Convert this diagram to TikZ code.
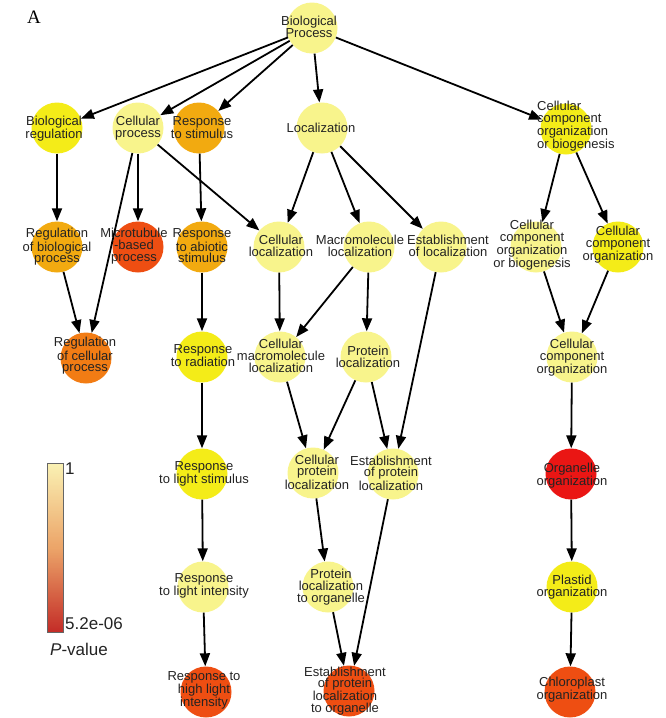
\documentclass[tikz,border=0pt]{standalone}
\usepackage{fontspec}
\usetikzlibrary{arrows.meta}
\newfontfamily\labelfont{Liberation Sans}
\newfontfamily\panelfont{Liberation Serif}
% node fill colours (P-value scale)
\definecolor{pale}{RGB}{248,244,140}
\definecolor{bright}{RGB}{244,236,24}
\definecolor{amber}{RGB}{242,170,16}
\definecolor{tangerine}{RGB}{242,124,20}
\definecolor{vermil}{RGB}{238,78,18}
\definecolor{scarlet}{RGB}{234,22,20}
\definecolor{ink}{RGB}{35,35,35}
% legend bar stops
\definecolor{barTop}{RGB}{250,242,180}
\definecolor{barMid}{RGB}{236,165,105}
\definecolor{barBot}{RGB}{196,46,40}
\begin{document}
\begin{tikzpicture}[x=1pt,y=-1pt,
  term/.style={circle,minimum size=51pt,inner sep=0pt,draw=none},
  lbl/.style={font=\labelfont\fontsize{13}{11.8}\selectfont,align=center,inner sep=0pt,text=ink},
  link/.style={-{Triangle[length=13pt,width=10pt]},line width=1.8pt,black},
  legendtxt/.style={font=\labelfont\fontsize{17}{17}\selectfont,inner sep=0pt,text=ink}]
\useasboundingbox (0,0) rectangle (666,718);

% panel letter
\node[font=\panelfont\fontsize{19}{19}\selectfont,inner sep=0pt] (panel) at (34,17) {A};

% GO term circles
\node[term,fill=pale]      (bp)    at (312,28)  {};
\node[term,fill=bright]    (breg)  at (57,128)  {};
\node[term,fill=pale]      (cproc) at (138,128) {};
\node[term,fill=amber]     (rstim) at (199,128) {};
\node[term,fill=pale]      (loc)   at (322,128) {};
\node[term,fill=bright]    (ccob)  at (566,129) {};
\node[term,fill=amber]     (rbp)   at (57,247)  {};
\node[term,fill=vermil]    (mtb)   at (138,247) {};
\node[term,fill=amber]     (rabs)  at (202,247) {};
\node[term,fill=pale]      (cloc)  at (279,247) {};
\node[term,fill=pale]      (mloc)  at (369,247) {};
\node[term,fill=pale]      (eloc)  at (441,247) {};
\node[term,fill=pale]      (ccobb) at (536,247) {};
\node[term,fill=bright]    (ccor)  at (618,247) {};
\node[term,fill=tangerine] (rcp)   at (86,358)  {};
\node[term,fill=bright]    (rrad)  at (202,357) {};
\node[term,fill=pale]      (cmloc) at (280,357) {};
\node[term,fill=pale]      (ploc)  at (366,357) {};
\node[term,fill=pale]      (ccom)  at (572,357) {};
\node[term,fill=bright]    (rls)   at (202,474) {};
\node[term,fill=pale]      (cploc) at (313,473) {};
\node[term,fill=pale]      (eploc) at (393,474) {};
\node[term,fill=scarlet]   (oorg)  at (571,474) {};
\node[term,fill=pale]      (rli)   at (203,587) {};
\node[term,fill=pale]      (plo)   at (328,587) {};
\node[term,fill=bright]    (porg)  at (572,587) {};
\node[term,fill=vermil]    (rhl)   at (206,692) {};
\node[term,fill=vermil]    (eplo)  at (349,691) {};
\node[term,fill=vermil]    (corg)  at (570,692) {};

% is-a links
\draw[link] (bp) -- (breg);
\draw[link] (bp) -- (cproc);
\draw[link] (bp) -- (rstim);
\draw[link] (bp) -- (loc);
\draw[link] (bp) -- (ccob);
\draw[link] (breg) -- (rbp);
\draw[link] (cproc) -- (mtb);
\draw[link] (cproc) -- (rcp);
\draw[link] (cproc) -- (cloc);
\draw[link] (rstim) -- (rabs);
\draw[link] (loc) -- (cloc);
\draw[link] (loc) -- (mloc);
\draw[link] (loc) -- (eloc);
\draw[link] (ccob) -- (ccobb);
\draw[link] (ccob) -- (ccor);
\draw[link] (rbp) -- (rcp);
\draw[link] (rabs) -- (rrad);
\draw[link] (cloc) -- (cmloc);
\draw[link] (mloc) -- (cmloc);
\draw[link] (mloc) -- (ploc);
\draw[link] (eloc) -- (eploc);
\draw[link] (ccobb) -- (ccom);
\draw[link] (ccor) -- (ccom);
\draw[link] (rrad) -- (rls);
\draw[link] (cmloc) -- (cploc);
\draw[link] (ploc) -- (cploc);
\draw[link] (ploc) -- (eploc);
\draw[link] (ccom) -- (oorg);
\draw[link] (rls) -- (rli);
\draw[link] (cploc) -- (plo);
\draw[link] (eploc) -- (eplo);
\draw[link] (oorg) -- (porg);
\draw[link] (rli) -- (rhl);
\draw[link] (plo) -- (eplo);
\draw[link] (porg) -- (corg);

% term names
\node[lbl] (bp-t)    at (309,27)  {Biological\\Process};
\node[lbl] (breg-t)  at (54,129)  {Biological\\regulation};
\node[lbl] (cproc-t) at (138,128) {Cellular\\process};
\node[lbl] (rstim-t) at (202,128) {Response\\to stimulus};
\node[lbl] (loc-t)   at (321,128) {Localization};
\node[lbl,align=left,anchor=west] (ccob-t) at (537,126) {Cellular\\component\\organization\\or biogenesis};
\node[lbl] (rbp-t)   at (57,247)  {Regulation\\of biological\\process};
\node[lbl] (mtb-t)   at (134,246) {Microtubule\\-based\\process};
\node[lbl] (rabs-t)  at (202,246) {Response\\to abiotic\\stimulus};
\node[lbl] (cloc-t)  at (281,246) {Cellular\\localization};
\node[lbl] (mloc-t)  at (360,246) {Macromolecule\\localization};
\node[lbl] (eloc-t)  at (448,246) {Establishment\\of localization};
\node[lbl] (ccobb-t) at (532,245) {Cellular\\component\\organization\\or biogenesis};
\node[lbl] (ccor-t)  at (618,245) {Cellular\\component\\organization};
\node[lbl] (rcp-t)   at (85,356)  {Regulation\\of cellular\\process};
\node[lbl] (rrad-t)  at (203,356) {Response\\to radiation};
\node[lbl] (cmloc-t) at (281,356) {Cellular\\macromolecule\\localization};
\node[lbl] (ploc-t)  at (368,357) {Protein\\localization};
\node[lbl] (ccom-t)  at (572,358) {Cellular\\component\\organization};
\node[lbl] (rls-t)   at (204,474) {Response\\to light stimulus};
\node[lbl] (cploc-t) at (317,472) {Cellular\\protein\\localization};
\node[lbl] (eploc-t) at (391,473) {Establishment\\of protein\\localization};
\node[lbl] (oorg-t)  at (572,476) {Organelle\\organization};
\node[lbl] (rli-t)   at (204,586) {Response\\to light intensity};
\node[lbl] (plo-t)   at (331,587) {Protein\\localization\\to organelle};
\node[lbl] (porg-t)  at (572,587) {Plastid\\organization};
\node[lbl] (rhl-t)   at (204,690) {Response to\\high light\\intensity};
\node[lbl] (eplo-t)  at (345,691) {Establishment\\of protein\\localization\\to organelle};
\node[lbl] (corg-t)  at (572,690) {Chloroplast\\organization};

% P-value colour bar
\foreach \i in {0,...,84}{
  \pgfmathtruncatemacro{\p}{100-\i*100/84}
  \fill[barTop!\p!barMid] (47,463+\i) rectangle (63,464.2+\i);
}
\foreach \i in {85,...,168}{
  \pgfmathtruncatemacro{\p}{100-(\i-85)*100/83}
  \fill[barMid!\p!barBot] (47,463+\i) rectangle (63,464.2+\i);
}
\draw[gray!80!black,line width=0.6pt] (47,463) rectangle (63,632);
\node[legendtxt,anchor=west] (vmax) at (65,469) {1};
\node[legendtxt,anchor=west] (vmin) at (65,624) {5.2e-06};
\node[legendtxt] (vname) at (79,649) {\textit{P}-value};
\end{tikzpicture}
\end{document}
